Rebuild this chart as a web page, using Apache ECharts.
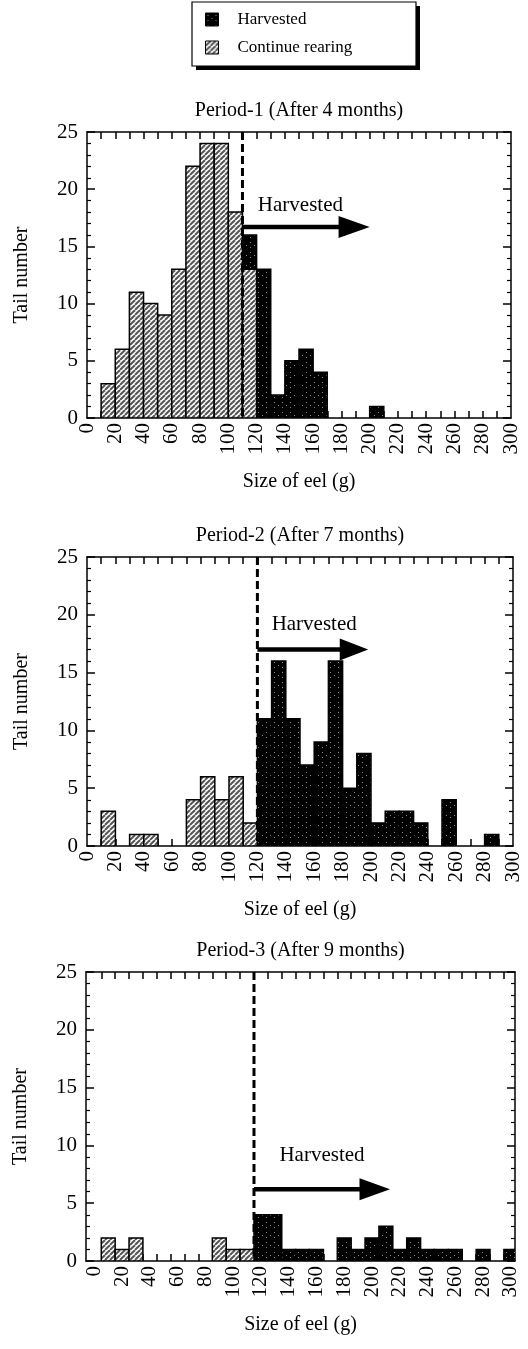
<!DOCTYPE html>
<html>
<head>
<meta charset="utf-8">
<script src="https://cdn.jsdelivr.net/npm/echarts@6/dist/echarts.min.js"></script>
<style>
  html, body { margin: 0; padding: 0; background: #fff; }
  #chart { width: 528px; height: 1349px; }
</style>
</head>
<body>
<div id="chart"></div>
<script>
// ---- data -------------------------------------------------------------
const BIN = 10;                        // class width (g)
const X_LABELS = [0, 20, 40, 60, 80, 100, 120, 140, 160, 180, 200, 220, 240, 260, 280, 300];
const Y_MAX = 25;
const TITLES = ['Period-1 (After 4 months)', 'Period-2 (After 7 months)', 'Period-3 (After 9 months)'];
const CUT_SIZE = [110, 120, 115];      // harvest threshold per period (g)

// Period-1: lower class edge and number of eels
const P1_REAR_FROM = [10, 20, 30, 40, 50, 60, 70, 80, 90, 100, 110];
const P1_REAR      = [3, 6, 11, 10, 9, 13, 22, 24, 24, 18, 13];
const P1_HARV_FROM = [110, 120, 130, 140, 150, 160, 200];
const P1_HARV      = [16, 13, 2, 5, 6, 4, 1];

// Period-2: lower class edge and number of eels
const P2_REAR_FROM = [10, 30, 40, 70, 80, 90, 100, 110];
const P2_REAR      = [3, 1, 1, 4, 6, 4, 6, 2];
const P2_HARV_FROM = [120, 130, 140, 150, 160, 170, 180, 190, 200, 210, 220, 230, 250, 280];
const P2_HARV      = [11, 16, 11, 7, 9, 16, 5, 8, 2, 3, 3, 2, 4, 1];

// Period-3: classes are centred on these sizes
const P3_REAR_AT = [10, 20, 30, 90, 100, 110];
const P3_REAR    = [2, 1, 2, 2, 1, 1];
const P3_HARV_AT = [120, 130, 140, 150, 160, 180, 190, 200, 210, 220, 230, 240, 250, 260, 280, 300];
const P3_HARV    = [4, 4, 1, 1, 1, 2, 1, 2, 3, 1, 2, 1, 1, 1, 1, 1];

// "Harvested" arrow: [arrow y, head base x, head tip x, text x, text y]
const ARROWS = [
  [16.7, 178, 200, 151, 18.6],
  [17.0, 178, 198, 160, 19.2],
  [6.2, 191, 213, 164, 9.1]
];

// ---- fills ------------------------------------------------------------
function hatchCanvas() {
  const n = 5;
  const c = document.createElement('canvas');
  c.width = n; c.height = n;
  const g = c.getContext('2d');
  g.fillStyle = '#fff'; g.fillRect(0, 0, n, n);
  g.strokeStyle = '#555'; g.lineWidth = 2;
  for (const k of [-n, 0, n]) {
    g.beginPath(); g.moveTo(k, n); g.lineTo(k + n, 0); g.stroke();
  }
  return c;
}
function speckCanvas() {
  const c = document.createElement('canvas');
  c.width = 8; c.height = 10;
  const g = c.getContext('2d');
  g.fillStyle = '#000'; g.fillRect(0, 0, 8, 10);
  g.fillStyle = '#8c8c8c';
  g.fillRect(2, 2, 1, 1); g.fillRect(2, 7, 1, 1); g.fillRect(6, 5, 1, 1);
  return c;
}
const HATCH = { image: hatchCanvas(), repeat: 'repeat' };
const SPECK = { image: speckCanvas(), repeat: 'repeat' };
const SERIF = '"Liberation Serif", "DejaVu Serif", serif';

// ---- layout -----------------------------------------------------------
const GRIDS = [
  { left: 87, right: 17, top: 132, height: 286 },
  { left: 87, right: 15, top: 557, height: 289 },
  { left: 86, right: 13, top: 972, height: 289 }
];
const X_RANGE = [[0, 300], [0, 300], [-6, 303]];
function range(a, b, s) { const r = []; for (let v = a; v <= b + 1e-9; v += s) r.push(v); return r; }
const X_TICKS = [range(10, 290, BIN), range(10, 290, BIN), range(5, 295, BIN)];

const fromEdges = (from, n) => from.map((x, i) => [x, x + BIN, n[i]]);
const fromCentres = (at, n) => at.map((x, i) => [x - BIN / 2, x + BIN / 2, n[i]]);
const PANELS = [
  { rear: fromEdges(P1_REAR_FROM, P1_REAR), harv: fromEdges(P1_HARV_FROM, P1_HARV) },
  { rear: fromEdges(P2_REAR_FROM, P2_REAR), harv: fromEdges(P2_HARV_FROM, P2_HARV) },
  { rear: fromCentres(P3_REAR_AT, P3_REAR), harv: fromCentres(P3_HARV_AT, P3_HARV) }
];

// ---- renderers --------------------------------------------------------
function barRenderer(fill) {
  return function (params, api) {
    const a = api.coord([api.value(0), api.value(2)]);
    const b = api.coord([api.value(1), 0]);
    return {
      type: 'rect',
      shape: { x: a[0], y: a[1], width: b[0] - a[0], height: b[1] - a[1] },
      style: { fill: fill, stroke: '#000', lineWidth: 1.5 }
    };
  };
}
function arrowRenderer(params, api) {
  const cut = api.value(0), y = api.value(1);
  const top = api.coord([cut, Y_MAX]), bot = api.coord([cut, 0]);
  const s = api.coord([cut, y]), b = api.coord([api.value(2), y]), t = api.coord([api.value(3), y]);
  const tp = api.coord([api.value(4), api.value(5)]);
  return {
    type: 'group',
    children: [
      { type: 'line', shape: { x1: top[0], y1: top[1], x2: bot[0], y2: bot[1] },
        style: { stroke: '#000', lineWidth: 3, lineDash: [8, 4] } },
      { type: 'line', shape: { x1: s[0], y1: s[1], x2: b[0] + 1, y2: b[1] },
        style: { stroke: '#000', lineWidth: 4.5 } },
      { type: 'polygon', shape: { points: [[b[0], b[1] - 11], [t[0], t[1]], [b[0], b[1] + 11]] },
        style: { fill: '#000' } },
      { type: 'text', x: tp[0], y: tp[1],
        style: { text: 'Harvested', fontFamily: SERIF, fontSize: 21, fill: '#000',
                 align: 'center', verticalAlign: 'middle' } }
    ]
  };
}

// ---- axes -------------------------------------------------------------
const AXIS_LINE = { show: true, onZero: false, lineStyle: { color: '#000', width: 1.5 } };
const xAxis = [], yAxis = [], series = [];
GRIDS.forEach((g, i) => {
  const base = {
    type: 'value', gridIndex: i, min: X_RANGE[i][0], max: X_RANGE[i][1],
    splitLine: { show: false }, axisLine: AXIS_LINE,
    axisTick: { show: true, inside: true, length: 7, customValues: X_TICKS[i],
                lineStyle: { color: '#000', width: 1.5 } }
  };
  xAxis.push(Object.assign({}, base, {
    position: 'bottom',
    name: 'Size of eel (g)', nameLocation: 'middle', nameGap: 54, nameMoveOverlap: false,
    nameTextStyle: { fontFamily: SERIF, fontSize: 20, color: '#000' },
    axisLabel: { customValues: X_LABELS, rotate: 90, margin: 5,
                 fontFamily: SERIF, fontSize: 21, color: '#000' }
  }));
  xAxis.push(Object.assign({}, base, {
    position: 'top',
    name: TITLES[i], nameLocation: 'middle', nameGap: 11, nameMoveOverlap: false,
    nameTextStyle: { fontFamily: SERIF, fontSize: 20, color: '#000' },
    axisLabel: { show: false }
  }));
  const ybase = {
    type: 'value', gridIndex: i, min: 0, max: Y_MAX, interval: 5,
    splitLine: { show: false }, axisLine: AXIS_LINE,
    axisTick: { show: true, inside: true, length: 8, lineStyle: { color: '#000', width: 1.5 } },
    minorTick: { show: true, splitNumber: 5, length: 4, lineStyle: { color: '#000', width: 1.2 } }
  };
  yAxis.push(Object.assign({}, ybase, {
    position: 'left',
    name: 'Tail number', nameLocation: 'middle', nameGap: 55, nameRotate: 90, nameMoveOverlap: false,
    nameTextStyle: { fontFamily: SERIF, fontSize: 20, color: '#000' },
    axisLabel: { margin: 9, fontFamily: SERIF, fontSize: 21, color: '#000' }
  }));
  yAxis.push(Object.assign({}, ybase, { position: 'right', axisLabel: { show: false } }));

  const axes = { xAxisIndex: 2 * i, yAxisIndex: 2 * i };
  series.push(Object.assign({
    type: 'custom', name: 'Harvested', clip: true, encode: { x: [0, 1], y: 2 },
    itemStyle: { color: SPECK }, renderItem: barRenderer(SPECK), data: PANELS[i].harv
  }, axes));
  series.push(Object.assign({
    type: 'custom', name: 'Continue rearing', clip: true, encode: { x: [0, 1], y: 2 },
    itemStyle: { color: HATCH }, renderItem: barRenderer(HATCH), data: PANELS[i].rear
  }, axes));
  series.push(Object.assign({
    type: 'custom', name: 'threshold', silent: true, z: 5,
    renderItem: arrowRenderer, data: [[CUT_SIZE[i]].concat(ARROWS[i])]
  }, axes));
});

const chart = echarts.init(document.getElementById('chart'), null, { renderer: 'canvas' });
chart.setOption({
  animation: false,
  backgroundColor: '#fff',
  // legend frame with a solid drop shadow
  graphic: [
    { type: 'rect', z: 0, silent: true, shape: { x: 196, y: 6, width: 224, height: 64 }, style: { fill: '#000' } },
    { type: 'rect', z: 1, silent: true, shape: { x: 192, y: 2, width: 224, height: 64 },
      style: { fill: '#fff', stroke: '#000', lineWidth: 1.2 } }
  ],
  legend: {
    data: [
      { name: 'Harvested', itemStyle: { color: SPECK, borderColor: '#000', borderWidth: 1 } },
      { name: 'Continue rearing', itemStyle: { color: HATCH, borderColor: '#000', borderWidth: 1 } }
    ],
    z: 10, orient: 'vertical', left: 192, top: 2, icon: 'rect',
    itemWidth: 13, itemHeight: 13, itemGap: 11, selectedMode: false,
    padding: [9, 40, 8, 13],
    textStyle: { fontFamily: SERIF, fontSize: 17, color: '#000', padding: [0, 0, 0, 14] }
  },
  grid: GRIDS,
  xAxis: xAxis,
  yAxis: yAxis,
  series: series
});
</script>
</body>
</html>
